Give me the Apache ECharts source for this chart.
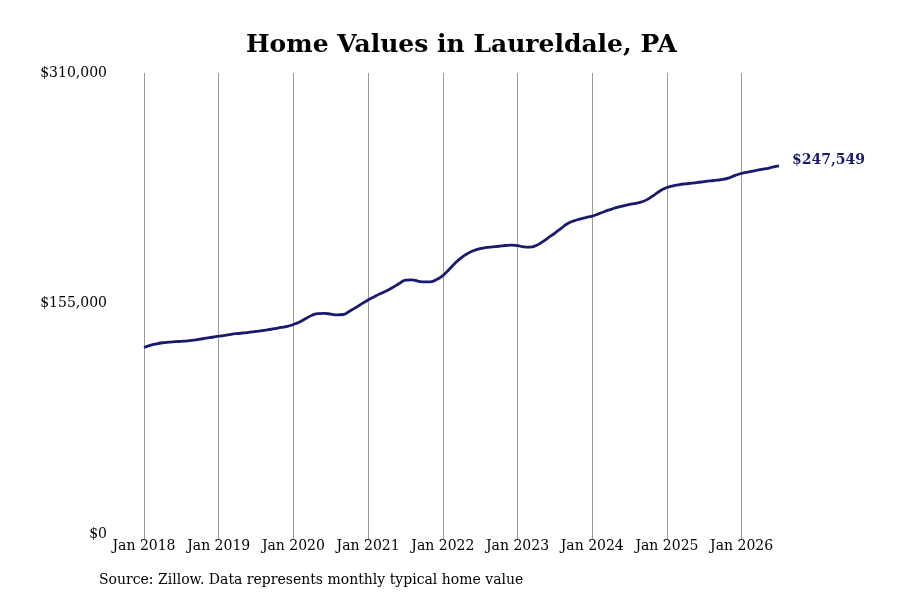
<!DOCTYPE html>
<html>
<head>
<meta charset="utf-8">
<script src="https://cdn.jsdelivr.net/npm/echarts@6/dist/echarts.min.js"></script>
<style>html,body{margin:0;padding:0;background:#fff;}#c{width:900px;height:600px;}</style>
</head>
<body>
<div id="c"></div>
<script>
var startYear = 2018;
var monthNames = ["Jan","Feb","Mar","Apr","May","Jun","Jul","Aug","Sep","Oct","Nov","Dec"];
var values = [
 125400,126900,127900,128600,129000,129300,129600,129900,130300,131000,131700,132300,
 133000,133600,134300,134800,135200,135700,136200,136700,137400,138100,138900,139600,
 140900,142600,144900,147100,148200,148300,147900,147300,147600,149800,152200,154900,
 157400,159600,161700,163600,165900,168400,170700,170900,170100,169500,169600,171100,
 173800,177900,182200,185900,188600,190600,191900,192700,193100,193500,194000,194300,
 193900,193100,192900,194000,196400,199400,202400,205600,208600,210500,211800,212800,
 213800,215300,216900,218300,219700,220700,221600,222400,223400,225300,228100,231000,
 233000,234100,235000,235500,235900,236400,237000,237500,237900,238400,239500,241200,
 242500,243400,244200,245000,245700,246700,247549
];
var categories = values.map(function(v,i){
  return monthNames[i%12] + " " + (startYear + Math.floor(i/12));
});
var yTicks = [0, 155000, 310000];
var titleText = "Home Values in Laureldale, PA";
var sourceText = "Source: Zillow. Data represents monthly typical home value";

var chart = echarts.init(document.getElementById('c'));
var serif = 'DejaVu Serif';
var isJan = function(idx){ return idx % 12 === 0; };
chart.setOption({
  animation: false,
  backgroundColor: '#fff',
  textStyle: {fontFamily: serif},
  title: {
    text: titleText, left: 241, top: 28,
    textStyle: {fontFamily: serif, fontWeight: 'bold', fontSize: 25, color: '#000'}
  },
  grid: {left: 144, right: 121, top: 73, bottom: 66, containLabel: false},
  xAxis: {
    type: 'category', data: categories, boundaryGap: false,
    axisLine: {show: false},
    axisTick: {show: true, interval: isJan, length: 6, lineStyle: {color: '#999'}},
    splitLine: {show: true, interval: isJan, lineStyle: {color: '#999', width: 1}},
    axisLabel: {
      interval: isJan, margin: 5, color: '#000', fontFamily: serif, fontSize: 14,
      formatter: function(v){ return v; }
    }
  },
  yAxis: {
    type: 'value', min: yTicks[0], max: yTicks[2], interval: yTicks[1],
    axisLine: {show: false}, axisTick: {show: false}, splitLine: {show: false},
    axisLabel: {
      margin: 37, color: '#000', fontFamily: serif, fontSize: 14,
      formatter: function(v){ return '$' + v.toLocaleString('en-US'); }
    }
  },
  series: [{
    type: 'line', data: values, smooth: true, showSymbol: false,
    lineStyle: {color: '#191970', width: 2.8},
    endLabel: {
      show: true, distance: 13, offset: [0, -6], color: '#191970', fontFamily: serif, fontWeight: 'bold', fontSize: 14,
      formatter: function(p){ return '$' + p.value.toLocaleString('en-US'); }
    }
  }],
  graphic: [{
    type: 'text', left: 99, top: 573,
    style: {text: sourceText, fill: '#000', fontFamily: serif, fontSize: 14}
  }]
});
</script>
</body>
</html>
